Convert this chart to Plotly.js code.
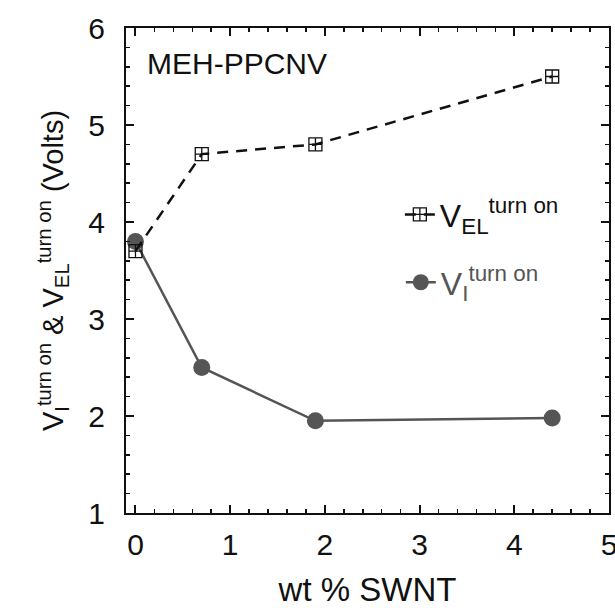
<!DOCTYPE html>
<html>
<head>
<meta charset="utf-8">
<script src="https://cdn.plot.ly/plotly-3.0.1.min.js"></script>
<style>html,body{margin:0;padding:0;background:#fff}#chart{width:615px;height:608px}</style>
</head>
<body>
<div id="chart"></div>
<script>
var wtSWNT = [0, 0.7, 1.9, 4.4];
var vEL = [3.7, 4.7, 4.8, 5.5];
var vI = [3.8, 2.5, 1.95, 1.98];
var xTicks = [0, 1, 2, 3, 4, 5];
var yTicks = [1, 2, 3, 4, 5, 6];

var font = 'Liberation Sans, Arial, sans-serif';

var traces = [
  {
    x: wtSWNT, y: vI, mode: 'lines+markers', type: 'scatter',
    name: '<span style="color:#555">V<sub>I</sub><sup>turn on</sup></span>',
    legend: 'legend2',
    line: {color: '#555555', width: 2.5},
    marker: {symbol: 'circle', size: 17, color: '#555555'}
  },
  {
    x: wtSWNT, y: vEL, mode: 'lines+markers', type: 'scatter',
    name: 'V<sub>EL</sub><sup>turn on</sup>',
    legend: 'legend',
    line: {color: '#111111', width: 2.5, dash: '11px,8px'},
    marker: {symbol: 'square-cross-open', size: 13, color: '#111111', line: {width: 1.3, color: '#111'}}
  },
  {
    x: [xTicks[0]], y: [yTicks[0]], xaxis: 'x2', yaxis: 'y2', mode: 'markers',
    marker: {opacity: 0}, showlegend: false, hoverinfo: 'skip'
  }
];

var minorStyle = {dtick: 0.2, tick0: 0, ticks: 'inside', ticklen: 4, tickwidth: 1.5, tickcolor: '#111', showgrid: false};

var layout = {
  width: 615, height: 608,
  margin: {l: 126, r: 6, t: 28, b: 95},
  paper_bgcolor: '#fff', plot_bgcolor: '#fff',
  font: {family: font, color: '#111', size: 28},
  showlegend: true,
  legend: {
    x: 0.567, y: 0.672, xanchor: 'left', yanchor: 'top',
    bgcolor: 'rgba(0,0,0,0)',
    font: {size: 32, family: font, color: '#111'},
    itemwidth: 30
  },
  legend2: {
    x: 0.569, y: 0.532, xanchor: 'left', yanchor: 'top',
    bgcolor: 'rgba(0,0,0,0)',
    font: {size: 32, family: font, color: '#555'},
    itemwidth: 30
  },
  xaxis: {
    range: [-0.1, 5.0001], tickvals: xTicks, ticktext: xTicks.map(String),
    ticks: 'inside', ticklen: 8, tickwidth: 2, tickcolor: '#111',
    showline: true, linecolor: '#111', linewidth: 2, mirror: true,
    showgrid: false, zeroline: false, ticklabeloverflow: 'allow', ticklabelstandoff: 4,
    tickfont: {size: 30, family: font, color: '#111'},
    minor: minorStyle,
    title: {text: 'wt % SWNT', font: {size: 33, family: font, color: '#111'}, standoff: 34}
  },
  yaxis: {
    range: [1, 6], tickvals: yTicks, ticktext: yTicks.map(String),
    ticks: 'inside', ticklen: 8, tickwidth: 2, tickcolor: '#111',
    showline: true, linecolor: '#111', linewidth: 2, mirror: true,
    showgrid: false, zeroline: false, ticklabelstandoff: 13,
    tickfont: {size: 30, family: font, color: '#111'},
    minor: minorStyle,
    title: {text: 'V<sub>I</sub><sup>turn on</sup> & V<sub>EL</sub><sup>turn on</sup> (Volts)', font: {size: 29, family: font, color: '#111'}, standoff: 16}
  },
  xaxis2: {
    overlaying: 'x', side: 'top', matches: 'x', range: [-0.1, 5.0001],
    tickvals: xTicks, showticklabels: false,
    ticks: 'inside', ticklen: 8, tickwidth: 2, tickcolor: '#111',
    showline: false, showgrid: false, zeroline: false, minor: minorStyle
  },
  yaxis2: {
    overlaying: 'y', side: 'right', matches: 'y', range: [1, 6],
    tickvals: yTicks, showticklabels: false,
    ticks: 'inside', ticklen: 8, tickwidth: 2, tickcolor: '#111',
    showline: false, showgrid: false, zeroline: false, minor: minorStyle
  },
  annotations: [
    {xref: 'paper', yref: 'paper', x: 0.04, y: 0.965, xanchor: 'left', yanchor: 'top',
     text: 'MEH-PPCNV', showarrow: false, font: {size: 30, family: font, color: '#111'}}
  ]
};

Plotly.newPlot('chart', traces, layout, {displayModeBar: false, staticPlot: true});
</script>
</body>
</html>
